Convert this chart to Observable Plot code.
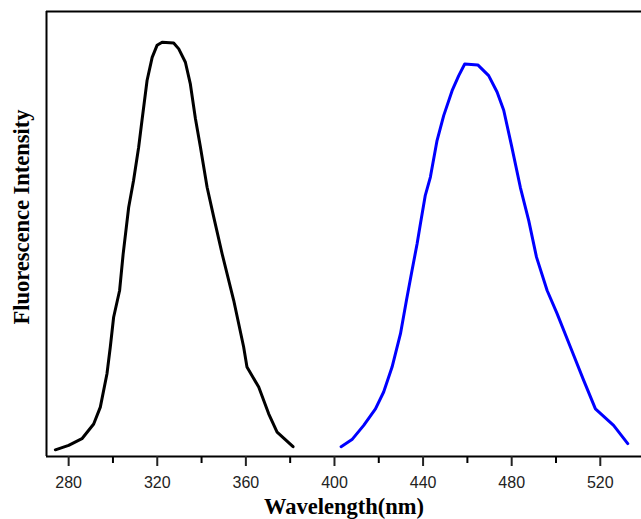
<!DOCTYPE html>
<html>
<head>
<meta charset="utf-8">
<script src="https://cdn.jsdelivr.net/npm/d3@7"></script>
<script src="https://cdn.jsdelivr.net/npm/@observablehq/plot@0.6"></script>
<style>
  html, body { margin: 0; padding: 0; background: #fff; }
  svg { display: block; }
</style>
</head>
<body>
<script>
// Excitation spectrum (black)
const excWavelength = [274, 280, 286, 291.3, 294.3, 297.3, 298.8, 300.3, 303, 304.6, 307.1, 309.3, 311.6, 313.1, 315.4, 317.7, 319.9, 322.2, 327.4, 329.7, 332.7, 334.9, 337.2, 339.5, 342.5, 345.5, 349.3, 354.5, 359, 360.5, 365.8, 370.3, 374.1, 381.3];
const excIntensity  = [15, 25, 40, 73, 111, 186, 246, 313, 373, 455, 560, 620, 695, 755, 845, 897, 924, 931, 929, 916, 886, 838, 760, 695, 605, 538, 455, 351, 246, 201, 156, 96, 55, 22];

// Emission spectrum (blue)
const emWavelength = [403, 407.9, 413.2, 418.5, 422.2, 426, 429.8, 432.5, 435, 437.3, 438.8, 441, 443.3, 446.3, 449.3, 453.1, 456.1, 458.8, 464.7, 469.6, 473.4, 476.4, 479.9, 483.9, 487.7, 491.2, 496, 500.5, 506.5, 512.5, 517.8, 526, 532.4];
const emIntensity  = [22, 38, 70, 107, 145, 201, 276, 351, 418, 478, 523, 587, 628, 710, 766, 822, 856, 882, 880, 856, 819, 778, 699, 605, 530, 448, 373, 321, 246, 171, 107, 70, 29];

const majorTicks = [280, 320, 360, 400, 440, 480, 520];
const minorTicks = [300, 340, 380, 420, 460, 500];
const xDomain = [270, 538.6];
const yDomain = [0, 1000];
const xTitle = "Wavelength(nm)";
const yTitle = "Fluorescence Intensity";

const exc = excWavelength.map((w, i) => ({w, v: excIntensity[i]}));
const em = emWavelength.map((w, i) => ({w, v: emIntensity[i]}));

const serif = "'Liberation Serif', 'Times New Roman', serif";
const sans = "'Liberation Sans', Arial, sans-serif";

const chart = Plot.plot({
  width: 641,
  height: 519,
  marginLeft: 46,
  marginRight: 0,
  marginTop: 11,
  marginBottom: 63,
  style: {background: "#fff", overflow: "visible"},
  x: {domain: xDomain},
  y: {domain: yDomain, axis: null},
  marks: [
    Plot.line(exc, {x: "w", y: "v", stroke: "#000", strokeWidth: 3, strokeLinejoin: "round", strokeLinecap: "round"}),
    Plot.line(em, {x: "w", y: "v", stroke: "#0000ff", strokeWidth: 3, strokeLinejoin: "round", strokeLinecap: "round"}),
    Plot.ruleX([xDomain[0]], {stroke: "#000", strokeWidth: 2}),
    Plot.ruleY([yDomain[0], yDomain[1]], {stroke: "#000", strokeWidth: 2}),
    Plot.axisX(majorTicks, {anchor: "bottom", tickSize: 10, tickPadding: 10, strokeWidth: 2, fontSize: 16, fontFamily: sans, color: "#222", label: null}),
    Plot.axisX(minorTicks, {anchor: "bottom", tickSize: 7, strokeWidth: 2, tickFormat: () => "", label: null}),
    Plot.text([xTitle], {frameAnchor: "bottom", dy: 57, lineAnchor: "bottom", textAnchor: "middle", fontSize: 22.5, fontWeight: "bold", fontFamily: serif, fill: "#000"}),
    Plot.text([yTitle], {frameAnchor: "left", rotate: -90, dx: -18, dy: -17, lineAnchor: "bottom", textAnchor: "middle", fontSize: 22.5, fontWeight: "bold", fontFamily: serif, fill: "#000"})
  ]
});
document.body.appendChild(chart);
</script>
</body>
</html>
